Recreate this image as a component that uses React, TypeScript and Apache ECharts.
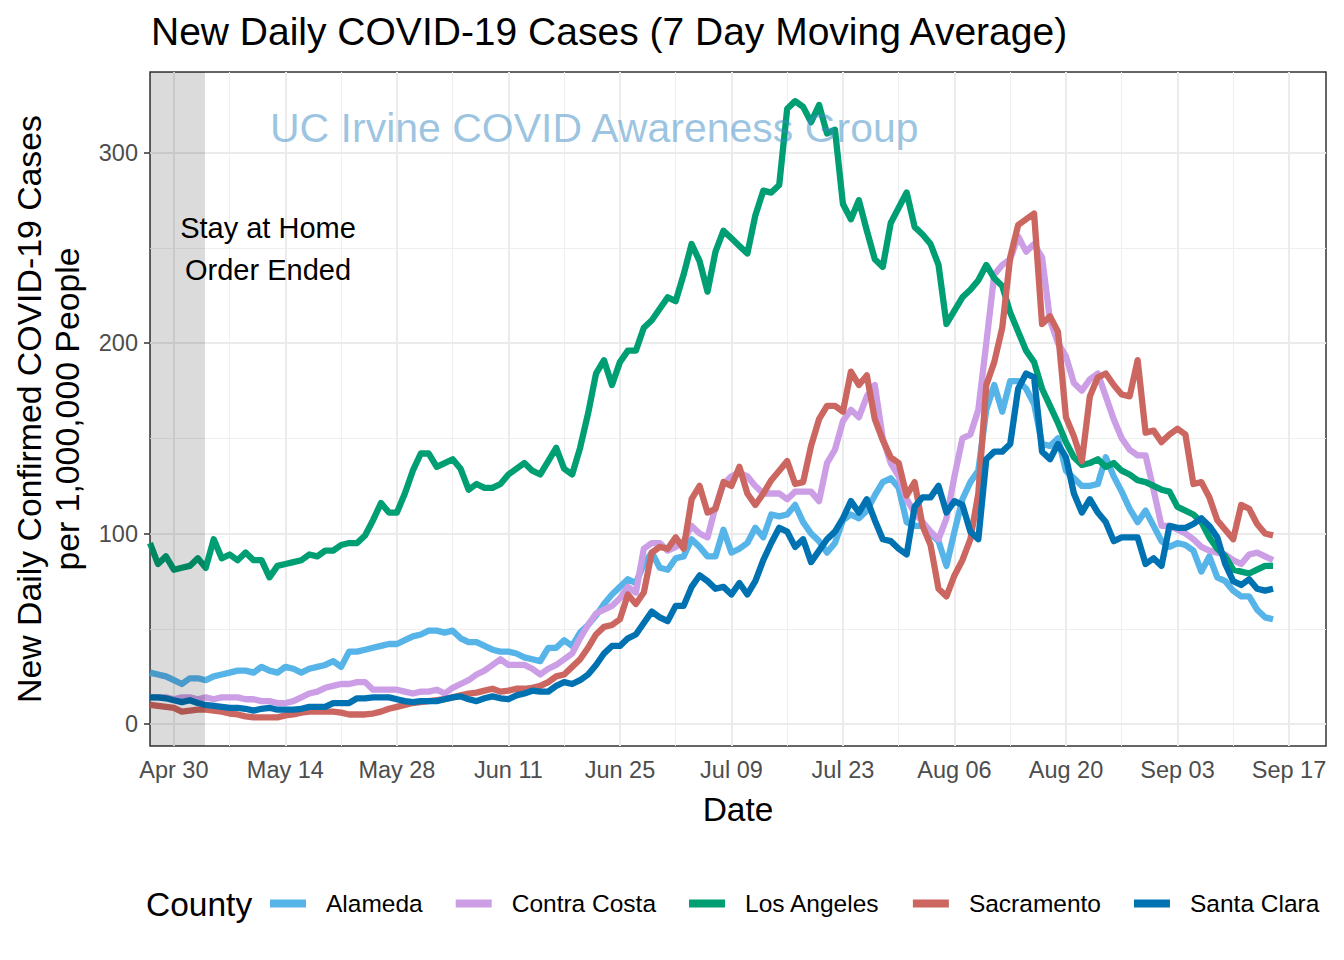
import React, { useEffect, useRef } from "react";
import * as echarts from "echarts";

const FONT = '"Liberation Sans", Arial, Helvetica, sans-serif';

// Day index 0 = 2020-04-27, last = 2020-09-15 (daily 7-day moving average)
const counties = ["Alameda", "Contra Costa", "Los Angeles", "Sacramento", "Santa Clara"];
const countyColors = ["#56B4E9", "#CC9EE6", "#009E73", "#CC6660", "#0072B2"];

const alameda = [
  27, 26, 25, 23, 21, 24, 24, 23, 25, 26,
  27, 28, 28, 27, 30, 28, 27, 30, 29, 27,
  29, 30, 31, 33, 30, 38, 38, 39, 40, 41,
  42, 42, 44, 46, 47, 49, 49, 48, 49, 45,
  43, 43, 41, 39, 38, 38, 37, 35, 34, 33,
  40, 40, 44, 41, 48, 52, 57, 63, 68, 72,
  76, 74, 84, 90, 82, 81, 87, 88, 97, 93,
  88, 88, 102, 90, 92, 95, 103, 98, 110, 109,
  110, 115, 106, 100, 96, 90, 95, 107, 110, 108,
  112, 120, 127, 129, 124, 106, 104, 104, 100, 96,
  83, 101, 118, 127, 133, 165, 178, 164, 180, 180,
  176, 168, 147, 146, 150, 133, 129, 125, 125, 126,
  140, 130, 122, 113, 106, 112, 104, 96, 93, 95,
  94, 91, 80, 88, 77, 75, 70, 67, 67, 60,
  56, 55,
];

const contraCosta = [
  14, 14, 14, 13, 14, 14, 13, 14, 13, 14,
  14, 14, 13, 13, 12, 12, 11, 11, 12, 14,
  16, 17, 19, 20, 21, 21, 22, 22, 18, 18,
  18, 18, 17, 16, 17, 17, 18, 16, 19, 21,
  23, 26, 28, 31, 34, 31, 31, 31, 29, 26,
  29, 31, 34, 37, 45, 52, 58, 60, 62, 66,
  72, 69, 92, 95, 95, 91, 93, 96, 104, 100,
  98, 114, 126, 130, 132, 130, 125, 121, 121, 121,
  118, 122, 122, 122, 117, 137, 144, 159, 165, 161,
  172, 178, 150, 137, 130, 118, 111, 106, 101, 97,
  108, 130, 150, 152, 165, 200, 236, 241, 244, 256,
  248, 252, 245, 212, 200, 193, 179, 175, 181, 184,
  172, 160, 150, 144, 141, 141, 123, 104, 104, 102,
  100, 97, 93, 91, 90, 89, 86, 84, 89, 90,
  88, 86,
];

const losAngeles = [
  95, 84, 88, 81, 82, 83, 87, 82, 97, 87,
  89, 86, 90, 86, 86, 77, 83, 84, 85, 86,
  89, 88, 91, 91, 94, 95, 95, 99, 107, 116,
  111, 111, 121, 133, 142, 142, 135, 137, 139, 134,
  123, 126, 124, 124, 126, 131, 134, 137, 133, 131,
  138, 145, 134, 131, 145, 163, 184, 191, 178, 190,
  196, 196, 208, 212, 218, 224, 222, 236, 252, 243,
  227, 248, 259, 255, 251, 247, 267, 280, 279, 283,
  323, 327, 324, 316, 325, 310, 312, 273, 265, 275,
  259, 244, 240, 263, 271, 279, 261, 257, 252, 241,
  210, 217, 224, 228, 233, 241, 234, 230, 216, 206,
  196, 190, 176, 167, 158, 148, 140, 136, 137, 139,
  135, 137, 133, 131, 128, 127, 125, 123, 122, 114,
  112, 110, 106, 98, 92, 88, 81, 80, 79, 81,
  83, 83,
];

const sacramento = [
  10, 9.5, 9, 8.5, 6.5, 7, 7.5, 7.5, 7, 6.5,
  5.5, 5, 4, 3.5, 3.5, 3.5, 3.5, 4.5, 5, 6,
  6.5, 6.5, 6.5, 6.5, 6, 5, 5, 5, 5.5, 6.5,
  8, 9, 10, 11, 11.5, 12, 12.5, 13, 14, 15,
  16, 16.5, 17.5, 18.5, 17, 17.5, 18.5, 18.5, 19, 20,
  22, 25, 26, 30, 34, 40, 47, 51, 52, 55,
  68, 63, 69, 90, 93, 92, 98, 92, 118, 125,
  111, 113, 127, 125, 135, 121, 115, 121, 128, 133,
  138, 126, 127, 146, 160, 167, 167, 164, 185, 178,
  183, 160, 149, 140, 137, 120, 127, 104, 94, 71,
  67, 78, 86, 97, 121, 178, 190, 208, 245, 262,
  265, 268, 210, 214, 206, 161, 151, 138, 172, 182,
  184, 178, 173, 172, 191, 153, 154, 148, 152, 155,
  152, 126, 127, 119, 107, 102, 97, 115, 113, 105,
  100, 99,
];

const santaClara = [
  14, 14, 13.5, 12.5, 11.5, 12.5, 11, 10, 9.5, 9,
  8.5, 8.5, 8, 7, 8, 8.5, 7.5, 7.5, 7.5, 8,
  9, 9, 9, 11, 11, 11, 13.5, 13.5, 14, 14,
  14, 13, 12, 11.5, 12, 12, 12, 13, 14, 14.5,
  13, 12, 13.5, 14.5, 13.5, 13, 15, 16, 17.5, 17,
  17, 20, 22, 21, 23, 26, 31, 37, 41, 41,
  45, 47, 53, 59, 56, 54, 62, 62, 72, 78,
  75, 71, 72, 68, 74, 68, 75, 86, 95, 103,
  101, 93, 97, 85, 91, 97, 101, 108, 117, 111,
  118, 107, 97, 96, 92, 89, 114, 119, 119, 125,
  111, 117, 115, 101, 97, 139, 143, 143, 147, 176,
  184, 182, 143, 139, 147, 140, 121, 111, 118, 111,
  106, 96, 98, 98, 98, 84, 87, 83, 104, 103,
  103, 105, 108, 104, 98, 84, 75, 73, 76, 71,
  70, 71,
];

const seriesValues = [alameda, contraCosta, losAngeles, sacramento, santaClara];

const xTickDays = [3, 17, 31, 45, 59, 73, 87, 101, 115, 129, 143];
const xTickLabels = ["Apr 30", "May 14", "May 28", "Jun 11", "Jun 25", "Jul 09", "Jul 23", "Aug 06", "Aug 20", "Sep 03", "Sep 17"];
const xMinorDays = [10, 24, 38, 52, 66, 80, 94, 108, 122, 136];
const yTicks = [0, 100, 200, 300];
const yMinorTicks = [50, 150, 250];

const xMin = 0;
const xMax = 147.65;
const yMin = -11.55;
const yMax = 342.3;
const stayHomeEnd = 6.9;

export default function App() {
  const ref = useRef<HTMLDivElement>(null);

  useEffect(() => {
    document.body.style.margin = "0";
    const chart = echarts.init(ref.current!, null, { renderer: "svg" });

    const majorStyle = { color: "#EBEBEB", width: 2, type: "solid" as const };
    const minorStyle = { color: "#EFEFEF", width: 1, type: "solid" as const };

    const gridLineData = [
      ...xMinorDays.map((v) => ({ xAxis: v, lineStyle: minorStyle })),
      ...yMinorTicks.map((v) => ({ yAxis: v, lineStyle: minorStyle })),
      ...xTickDays.map((v) => ({ xAxis: v, lineStyle: majorStyle })),
      ...yTicks.map((v) => ({ yAxis: v, lineStyle: majorStyle })),
    ];

    const dataSeries = counties.map((name, i) => ({
      name,
      type: "line",
      data: seriesValues[i].map((v, d) => [d, v]),
      showSymbol: false,
      symbol: "none",
      color: countyColors[i],
      lineStyle: { width: 6.3, color: countyColors[i], join: "round", cap: "butt" },
      z: 2,
      silent: true,
    }));

    const option: any = {
      animation: false,
      backgroundColor: "#ffffff",
      textStyle: { fontFamily: FONT },
      title: {
        text: "New Daily COVID-19 Cases (7 Day Moving Average)",
        left: 146,
        top: 7,
        textStyle: { fontSize: 39, fontWeight: "normal", color: "#000", fontFamily: FONT },
      },
      grid: {
        left: 150,
        top: 72,
        width: 1176,
        height: 674,
        show: true,
        borderColor: "#333333",
        borderWidth: 1.5,
        backgroundColor: "transparent",
      },
      xAxis: {
        type: "value",
        min: xMin,
        max: xMax,
        splitLine: { show: false },
        axisLine: { show: false },
        axisTick: { show: true, customValues: xTickDays, length: 6, lineStyle: { color: "#333333", width: 1.5 } },
        axisLabel: {
          customValues: xTickDays,
          formatter: (v: number) => {
            const idx = xTickDays.indexOf(Math.round(v));
            return idx >= 0 ? xTickLabels[idx] : "";
          },
          fontSize: 23.5,
          color: "#4D4D4D",
          margin: 12,
          fontFamily: FONT,
        },
        name: "Date",
        nameLocation: "middle",
        nameGap: 46,
        nameTextStyle: { fontSize: 33.5, color: "#000", fontFamily: FONT },
      },
      yAxis: {
        type: "value",
        min: yMin,
        max: yMax,
        splitLine: { show: false },
        axisLine: { show: false },
        axisTick: { show: true, customValues: yTicks, length: 6, lineStyle: { color: "#333333", width: 1.5 } },
        axisLabel: {
          customValues: yTicks,
          fontSize: 23.5,
          color: "#4D4D4D",
          margin: 12,
          fontFamily: FONT,
        },
        name: "New Daily Confirmed COVID-19 Cases\nper 1,000,000 People",
        nameLocation: "middle",
        nameGap: 64,
        nameTextStyle: { fontSize: 33.8, lineHeight: 38, color: "#000", fontFamily: FONT, align: "center" },
      },
      legend: {
        data: counties,
        left: 270,
        top: 891,
        padding: 0,
        icon: "rect",
        itemWidth: 36,
        itemHeight: 8,
        itemGap: 33,
        textStyle: { fontSize: 24.5, color: "#000", fontFamily: FONT, padding: [0, 0, 0, 15] },
      },
      series: [
        {
          name: "_grid",
          type: "line",
          data: [[0, 0]],
          symbol: "none",
          showSymbol: false,
          lineStyle: { opacity: 0 },
          silent: true,
          z: 1,
          markLine: {
            z: 1,
            silent: true,
            symbol: ["none", "none"],
            label: { show: false },
            animation: false,
            data: gridLineData,
          },
        },
        ...dataSeries,
        {
          name: "_shade",
          type: "line",
          data: [[0, 0]],
          symbol: "none",
          showSymbol: false,
          lineStyle: { opacity: 0 },
          silent: true,
          z: 8,
          markArea: {
            z: 8,
            silent: true,
            label: { show: false },
            itemStyle: { color: "rgba(0,0,0,0.14)" },
            data: [[{ xAxis: xMin }, { xAxis: stayHomeEnd }]],
          },
        },
      ],
      graphic: [
        {
          type: "text",
          left: 270,
          top: 107,
          z: 100,
          silent: true,
          style: {
            text: "UC Irvine COVID Awareness Group",
            font: `41px ${FONT}`,
            fill: "rgba(60,140,195,0.5)",
          },
        },
        {
          type: "text",
          x: 268,
          y: 249,
          z: 100,
          silent: true,
          style: {
            text: "Stay at Home\nOrder Ended",
            font: `29px ${FONT}`,
            lineHeight: 42,
            fill: "#000",
            align: "center",
            verticalAlign: "middle",
          },
        },
        {
          type: "text",
          x: 146,
          y: 904,
          z: 100,
          silent: true,
          style: {
            text: "County",
            font: `33.5px ${FONT}`,
            fill: "#000",
            verticalAlign: "middle",
          },
        },
      ],
    };

    chart.setOption(option);
    return () => chart.dispose();
  }, []);

  return <div ref={ref} style={{ position: "absolute", left: 0, top: 0, width: 1344, height: 960 }} />;
}
